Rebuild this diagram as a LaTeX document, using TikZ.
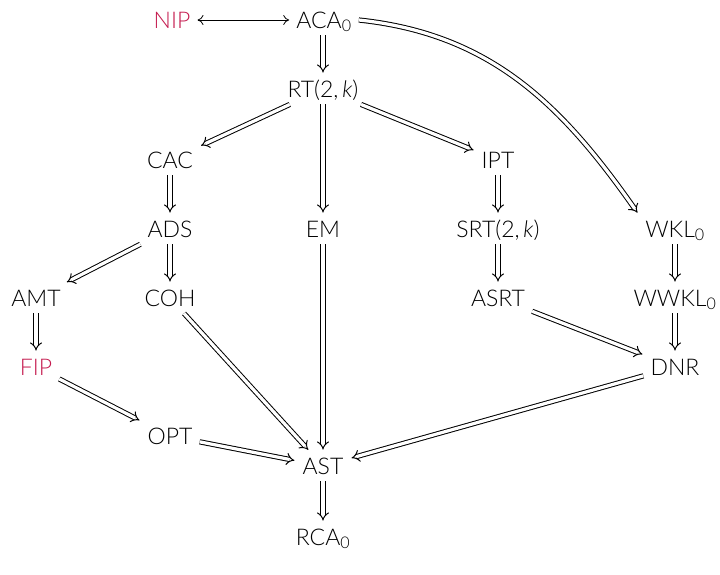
\documentclass[tikz,border=0pt]{standalone}
\usepackage{fontspec}
\setmainfont{Lato}[UprightFont=* Light, ItalicFont=* Light Italic]
\usetikzlibrary{arrows.meta}
\definecolor{nipred}{RGB}{196,26,78}
\tikzset{
  thm/.style={inner sep=7pt, text height=16.5pt, text depth=0pt, font=\fontsize{23}{26}\selectfont},
  imp/.style={draw, double, double distance=3.2pt, line width=1pt, -{Implies}, shorten >=1pt},
  eqv/.style={draw, line width=0.8pt, {To[length=6pt,width=10pt]}-{To[length=6pt,width=10pt]}},
}
\begin{document}
\begin{tikzpicture}[x=1pt,y=1pt]
\useasboundingbox (0,0) rectangle (720,574);
\node[thm, text=nipred] (nip) at (172,554) {NIP};
\node[thm] (aca) at (324,554) {ACA\textsubscript{0}};
\node[thm] (rt) at (323,485) {RT(2,\,\textit{k})};
\node[thm] (cac) at (170,414) {CAC};
\node[thm] (ipt) at (498,414) {IPT};
\node[thm] (ads) at (170,345) {ADS};
\node[thm] (em) at (323,345) {EM};
\node[thm] (srt) at (498,345) {SRT(2,\,\textit{k})};
\node[thm] (wkl) at (675,345) {WKL\textsubscript{0}};
\node[thm] (amt) at (36,276) {AMT};
\node[thm] (coh) at (170,276) {COH};
\node[thm] (asrt) at (498,276) {ASRT};
\node[thm] (wwkl) at (675,276) {WWKL\textsubscript{0}};
\node[thm, text=nipred] (fip) at (36,207) {FIP};
\node[thm] (dnr) at (675,207) {DNR};
\node[thm] (opt) at (170,138) {OPT};
\node[thm] (ast) at (323,108) {AST};
\node[thm] (rca) at (323,37) {RCA\textsubscript{0}};

\draw[eqv] (nip) -- (aca);
\draw[imp] (aca.south -| rt) -- (rt);
\draw[imp] (aca.east) to[out=-6, in=125] (wkl.north west);
\draw[imp] (rt) -- (cac);
\draw[imp] (rt) -- (em);
\draw[imp] (rt) -- (ipt);
\draw[imp] (cac) -- (ads);
\draw[imp] (ipt) -- (srt);
\draw[imp] (srt) -- (asrt);
\draw[imp] (ads) -- (amt);
\draw[imp] (ads) -- (coh);
\draw[imp] (amt) -- (fip);
\draw[imp] (fip) -- (opt);
\draw[imp] (opt) -- (ast);
\draw[imp] (coh) -- (ast);
\draw[imp] (em) -- (ast);
\draw[imp] (asrt) -- (dnr);
\draw[imp] (wkl) -- (wwkl);
\draw[imp] (wwkl) -- (dnr);
\draw[imp] (dnr) -- (ast);
\draw[imp] (ast) -- (rca);
\end{tikzpicture}
\end{document}
